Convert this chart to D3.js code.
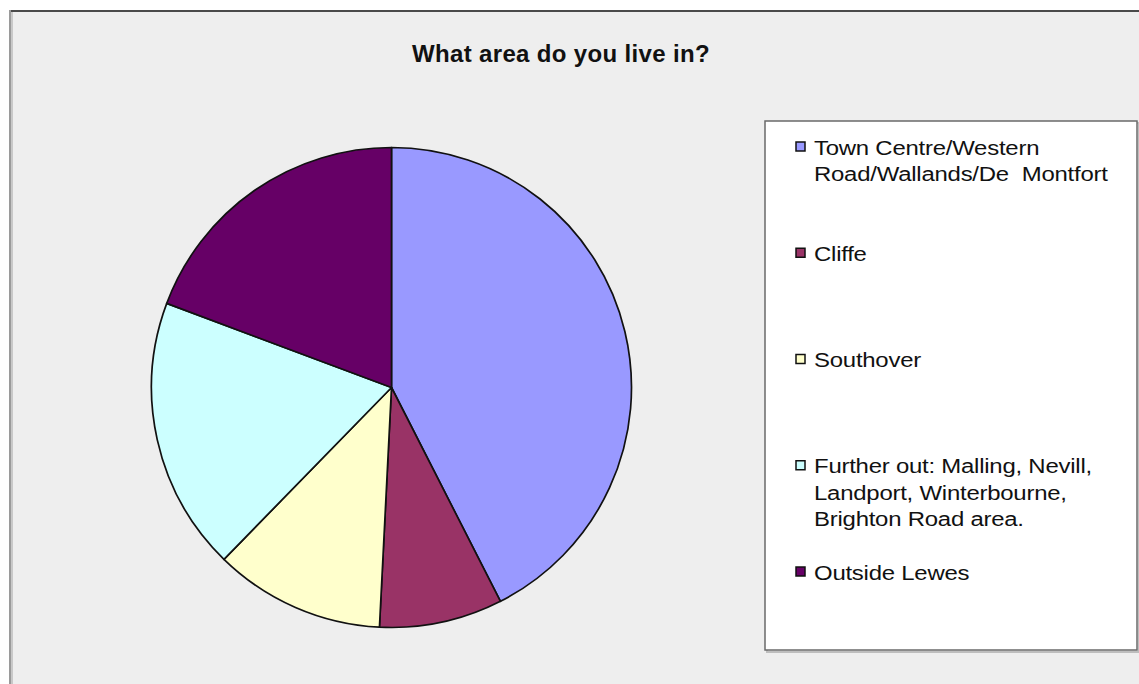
<!DOCTYPE html>
<html>
<head>
<meta charset="utf-8">
<script src="https://cdn.jsdelivr.net/npm/d3@7"></script>
<style>
  html, body { margin: 0; padding: 0; background: #ffffff; }
  svg { display: block; }
  text { font-family: "Liberation Sans", Arial, sans-serif; fill: #111; white-space: pre; }
</style>
</head>
<body>
<svg id="chart" width="1139" height="684"></svg>
<script>
// Survey answers: share of respondents (%) by area
const categories = [
  "Town Centre/Western Road/Wallands/De  Montfort",
  "Cliffe",
  "Southover",
  "Further out: Malling, Nevill, Landport, Winterbourne, Brighton Road area.",
  "Outside Lewes"
];
const legendLines = [
  ["Town Centre/Western", "Road/Wallands/De  Montfort"],
  ["Cliffe"],
  ["Southover"],
  ["Further out: Malling, Nevill,", "Landport, Winterbourne,", "Brighton Road area."],
  ["Outside Lewes"]
];
const values = [42.5, 8.3, 11.5, 18.4, 19.3];
const colors = ["#9999ff", "#993366", "#ffffcc", "#ccffff", "#660066"];
const title = "What area do you live in?";

const svg = d3.select("#chart");
const W = 1139, H = 684;

// chart area frame
svg.append("rect").attr("x", 11).attr("y", 11).attr("width", W).attr("height", H)
  .attr("fill", "#eeeeee");
svg.append("line").attr("x1", 10).attr("x2", W).attr("y1", 11).attr("y2", 11)
  .attr("stroke", "#4a4a4a").attr("stroke-width", 2);
svg.append("line").attr("x1", 10).attr("x2", 10).attr("y1", 10).attr("y2", H)
  .attr("stroke", "#9a9a9a").attr("stroke-width", 2);
svg.append("line").attr("x1", 12).attr("x2", 12).attr("y1", 12).attr("y2", H)
  .attr("stroke", "#c8c8c8").attr("stroke-width", 2);

// title
svg.append("text")
  .attr("x", 561).attr("y", 62)
  .attr("text-anchor", "middle")
  .attr("font-size", 24).attr("font-weight", "bold")
  .attr("letter-spacing", "0.35")
  .text(title);

// pie
const cx = 391.5, cy = 387.5, r = 240;
const pie = d3.pie().sort(null).value(d => d)
  .startAngle(0).endAngle(2 * Math.PI);
const arc = d3.arc().innerRadius(0).outerRadius(r);
const color = d3.scaleOrdinal().domain(d3.range(categories.length)).range(colors);

svg.append("g").attr("transform", `translate(${cx},${cy})`)
  .selectAll("path")
  .data(pie(values))
  .join("path")
  .attr("d", arc)
  .attr("fill", (d, i) => color(i))
  .attr("stroke", "#111")
  .attr("stroke-width", 1.7)
  .attr("stroke-linejoin", "round");

// legend
const lx = 765, ly = 121, lw = 372, lh = 529;
svg.append("rect").attr("x", lx + 2).attr("y", ly + 2).attr("width", lw).attr("height", lh)
  .attr("fill", "none").attr("stroke", "#bdbdbd").attr("stroke-width", 2);
svg.append("rect").attr("x", lx).attr("y", ly).attr("width", lw).attr("height", lh)
  .attr("fill", "#ffffff").attr("stroke", "#6a6a6a").attr("stroke-width", 1.5);

const itemY = d3.scaleLinear().domain([0, categories.length - 1]).range([147, 572]);
const lineH = 26.5;

const items = svg.append("g").selectAll("g")
  .data(categories)
  .join("g")
  .attr("transform", (d, i) => `translate(0,${itemY(i)})`);

items.append("rect")
  .attr("x", 796).attr("y", -5).attr("width", 9).attr("height", 9)
  .attr("fill", (d, i) => color(i))
  .attr("stroke", "#111").attr("stroke-width", 1.5);

items.append("text")
  .attr("font-size", 21)
  .attr("transform", "translate(814,7.5) scale(1.14,1)")
  .attr("letter-spacing", "-0.2")
  .selectAll("tspan")
  .data((d, i) => legendLines[i])
  .join("tspan")
  .attr("x", 0)
  .attr("y", (d, j) => j * lineH)
  .text(d => d);
</script>
</body>
</html>
